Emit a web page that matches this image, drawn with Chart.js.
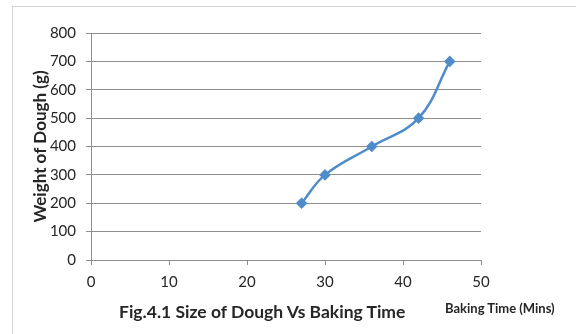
<!DOCTYPE html>
<html lang="en">
<head>
  <meta charset="UTF-8">
  <title>Size of Dough Vs Baking Time</title>
  <script src="https://cdn.jsdelivr.net/npm/chart.js"></script>
  <style>
    body { margin: 0; background: #fff; font-family: Lato, 'DejaVu Sans', sans-serif; }
    #wrap { position: relative; width: 576px; height: 334px; overflow: hidden; }
    #frame {
      position: absolute; left: 12px; top: 6px; width: 600px; height: 400px;
      border-left: 1px solid #d4d4d4; border-top: 1px solid #d4d4d4;
    }
    canvas { position: absolute; left: 0; top: 0; }
    .caption { position: absolute; color: #262626; font-weight: bold; white-space: nowrap; }
    #fig { left: 119px; top: 301px; font-size: 17.5px; }
    #xtitle { left: 445px; top: 300px; font-size: 13px; }
  </style>
</head>
<body>
  <div id="wrap">
    <div id="frame"></div>
    <canvas id="doughChart" width="576" height="334"></canvas>
    <div class="caption" id="fig">Fig.4.1 Size of Dough Vs Baking Time</div>
    <div class="caption" id="xtitle">Baking Time (Mins)</div>
  </div>

  <script>
    // values
    const bakingTime = [27, 30, 36, 42, 46];
    const doughWeight = [200, 300, 400, 500, 700];
    const xTicks = [0, 10, 20, 30, 40, 50];
    const yTicks = [0, 100, 200, 300, 400, 500, 600, 700, 800];

    const lineBlue = '#4f8cc9';
    const gridGray = '#8e8e8e';
    const textDark = '#262626';

    const points = bakingTime.map((t, i) => ({ x: t, y: doughWeight[i] }));

    new Chart(document.getElementById('doughChart'), {
      type: 'scatter',
      data: {
        datasets: [{
          label: 'Weight of Dough',
          data: points,
          showLine: true,
          borderColor: lineBlue,
          backgroundColor: lineBlue,
          borderWidth: 2.5,
          tension: 0.4,
          pointStyle: 'rectRot',
          pointRadius: 4,
          pointHoverRadius: 4
        }]
      },
      options: {
        responsive: false,
        animation: false,
        layout: { padding: { left: 28, top: 33, right: 95, bottom: 34 } },
        plugins: { legend: { display: false }, tooltip: { enabled: false } },
        scales: {
          x: {
            type: 'linear',
            min: xTicks[0], max: xTicks[xTicks.length - 1],
            afterBuildTicks: s => { s.ticks = xTicks.map(v => ({ value: v })); },
            afterFit: s => { s.height = 40; },
            ticks: { color: textDark, font: { family: 'Lato', size: 15 }, padding: 8 },
            grid: { drawOnChartArea: false, drawTicks: true, tickLength: 5, color: gridGray },
            border: { color: gridGray }
          },
          y: {
            min: yTicks[0], max: yTicks[yTicks.length - 1],
            afterBuildTicks: s => { s.ticks = yTicks.map(v => ({ value: v })); },
            afterFit: s => { s.width = 63; },
            ticks: { color: textDark, font: { family: 'Lato', size: 15 }, padding: 10 },
            grid: { color: gridGray, tickLength: 5 },
            border: { color: gridGray },
            title: {
              display: true, text: 'Weight of Dough (g)', color: textDark,
              font: { family: 'Lato', size: 17, weight: 'bold' }, padding: 2
            }
          }
        }
      }
    });
  </script>
</body>
</html>
